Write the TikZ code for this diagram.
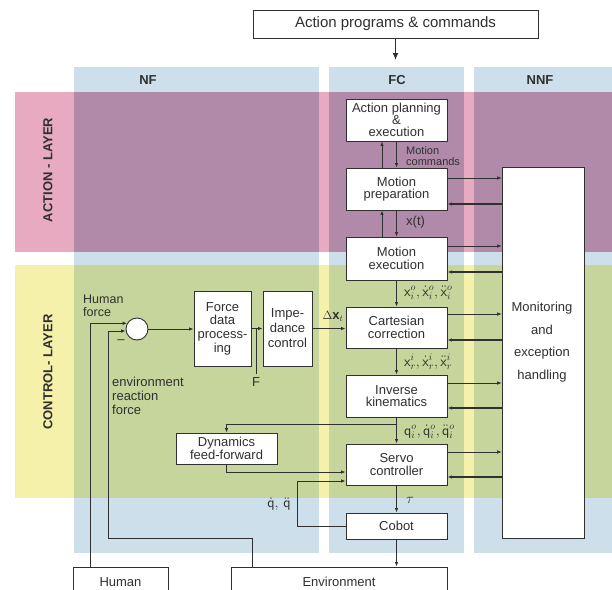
\documentclass[tikz,border=0pt]{standalone}
\usepackage{fontspec}
\setmainfont{Liberation Sans}
\usetikzlibrary{arrows.meta}
\definecolor{cblue}{HTML}{CCDFEA}
\definecolor{cpink}{HTML}{E8AAC1}
\definecolor{cpurple}{HTML}{B18AAA}
\definecolor{cyellow}{HTML}{F6F1AA}
\definecolor{cgreen}{HTML}{C6D59B}
\definecolor{linec}{HTML}{303030}
\newcommand{\fsz}[2]{\fontsize{#1}{#2}\selectfont}
\begin{document}
\begin{tikzpicture}[x=1pt,y=-1pt,
  box/.style={draw=linec,line width=0.9pt,fill=white,inner sep=0pt,align=center,text=linec,font=\fsz{13}{12.5}},
  lbl/.style={inner sep=0pt,text=linec,font=\fsz{12}{11}},
  mlbl/.style={inner sep=0pt,text=linec,font=\fsz{14.5}{14.5}},
  conn/.style={draw=linec,line width=0.8pt},
  arr/.style={conn,-{Latex[length=4.5pt,width=3.5pt]}},
  thinarr/.style={draw=linec,line width=0.5pt,-{Latex[length=4.5pt,width=3.5pt]}},
  thickarr/.style={draw=linec,line width=1.1pt,-{Latex[length=4.5pt,width=3.5pt]}},
  hdr/.style={inner sep=0pt,text=linec,font=\fsz{13}{13}\bfseries},
]
\clip (0,0) rectangle (612,589);
\fill[white] (0,0) rectangle (612,589);
% columns
\fill[cblue] (74,67) rectangle (319,553);
\fill[cblue] (329,67) rectangle (464,553);
\fill[cblue] (474,67) rectangle (612,553);
% layers
\fill[cpink] (15,92) rectangle (612,252);
\fill[cyellow] (15,265) rectangle (612,498);
\foreach \a/\b in {74/319,329/464,474/612}{
  \fill[cpurple] (\a,92) rectangle (\b,252);
  \fill[cgreen] (\a,265) rectangle (\b,498);
}
% headers
\node[hdr] (hnf) at (148,80) {NF};
\node[hdr] (hfc) at (397,80) {FC};
\node[hdr] (hnnf) at (540,80) {NNF};
\node[hdr,rotate=90] (lact) at (48,170) {ACTION - LAYER};
\node[hdr,rotate=90] (lctl) at (48,372) {CONTROL- LAYER};

% top
\node[box,font=\fsz{15}{15},minimum width=285pt,minimum height=28pt] (apc) at (395.5,24) {Action programs \& commands};
\coordinate (fctop) at (395.5,60);
\draw[draw=linec,line width=1.3pt,-{Latex[length=7pt,width=6pt]}] (apc.south) -- (fctop);

% FC boxes
\node[box,font=\fsz{13}{12},minimum width=101pt,minimum height=42pt] (apl) at (396.5,120) {Action planning\\\&\\execution};
\node[box,minimum width=101pt,minimum height=42pt] (mprep) at (396.5,189) {Motion\\preparation};
\node[box,minimum width=101pt,minimum height=43pt] (mexe) at (396.5,258.5) {Motion\\execution};
\node[box,minimum width=101pt,minimum height=41pt] (cart) at (396.5,327.5) {Cartesian\\correction};
\node[box,minimum width=101pt,minimum height=42pt] (ik) at (396.5,396) {Inverse\\kinematics};
\node[box,minimum width=101pt,minimum height=41pt] (servo) at (396.5,464.5) {Servo\\controller};
\node[box,minimum width=101pt,minimum height=26pt] (cobot) at (396.5,526) {Cobot};

% monitor
\node[box,minimum width=82pt,minimum height=371pt] (mon) at (543,352.5) {};
\node[lbl,align=center,font=\fsz{13}{22.7}] (montext) at (542,342) {Monitoring\\and\\exception\\handling};

% NF boxes
\node[box,font=\fsz{13}{13.7},minimum width=57pt,minimum height=75pt] (fdp) at (222.5,328.5) {Force\\data\\process-\\ing};
\node[box,font=\fsz{13}{15},minimum width=49pt,minimum height=75pt] (imp) at (287.5,328.5) {Impe-\\dance\\control};
\node[draw=linec,line width=0.9pt,fill=white,circle,minimum size=22pt,inner sep=0pt] (sum) at (137,329) {};
\node[box,font=\fsz{13}{11.5},minimum width=101pt,minimum height=31pt] (dyn) at (226.5,448.5) {Dynamics\\feed-forward};
\node[box,minimum width=95pt,minimum height=30pt] (human) at (120.5,582) {Human};
\node[box,minimum width=216pt,minimum height=30pt] (env) at (339,582) {Environment};

% FC vertical chain
\draw[arr] (apl.south) -- (mprep.north);
\draw[arr] ([xshift=-14.5pt]mprep.north) -- ([xshift=-14.5pt]apl.south);
\draw[arr] (mprep.south) -- (mexe.north);
\draw[arr] ([xshift=-14.5pt]mexe.north) -- ([xshift=-14.5pt]mprep.south);
\draw[arr] (mexe.south) -- (cart.north);
\draw[arr] (cart.south) -- (ik.north);
\draw[arr] (ik.south) -- (servo.north);
\draw[arr] (servo.south) -- (cobot.north);
\draw[arr] (cobot.south) -- (cobot.south |- env.north);

% monitor arrows
\foreach \n/\r/\l in {mprep/11/-15,mexe/12.5/-13.5,cart/13.5/-12.5,ik/13/-12,servo/12.5/-12.5}{
  \coordinate (r\n) at ([yshift=\r pt]\n.east);
  \coordinate (l\n) at ([yshift=\l pt]\n.east);
  \draw[thinarr] (r\n) -- (r\n -| mon.west);
  \draw[thickarr] (l\n -| mon.west) -- (l\n);
}

% FC labels
\node[lbl,anchor=west,align=left,font=\fsz{11}{11}] (mcmd) at (406,156.5) {Motion\\commands};
\node[lbl,anchor=west,font=\fsz{13}{13}] (xt) at (406,222) {x(t)};
\node[mlbl,anchor=west] (lx1) at (404,293) {$\mathsf{x}^{o}_{i},\dot{\mathsf{x}}^{o}_{i},\ddot{\mathsf{x}}^{o}_{i}$};
\node[mlbl,anchor=west] (lx2) at (404,362) {$\mathsf{x}^{i}_{r},\dot{\mathsf{x}}^{i}_{r},\ddot{\mathsf{x}}^{i}_{r}$};
\node[mlbl,anchor=west] (lq) at (404,432) {$\mathsf{q}^{o}_{i},\dot{\mathsf{q}}^{o}_{i},\ddot{\mathsf{q}}^{o}_{i}$};
\node[mlbl,anchor=west] (ltau) at (406,500) {$\tau$};

% NF connections
\draw[arr] (sum.east) -- (sum.east -| fdp.west);
\draw[arr] (fdp.east) -- (imp.west);
\coordinate (fbr) at (256,328.5);
\node[lbl,font=\fsz{13}{13}] (flab) at (256,382) {F};
\draw[conn] (fbr) -- ([yshift=3pt]flab.north);
\draw[arr] (imp.east) -- (imp.east -| cart.west);
\node[mlbl,font=\fsz{13}{13}] (ldx) at (333,316) {$\Delta\mathbf{x}_{t}$};

\draw[arr] ([xshift=-30.5pt]human.north) |- (sum.150);
\coordinate (ec) at (108,538);
\draw[arr] ([xshift=-87pt]env.north) |- (ec) |- (sum.190);
\node[lbl,anchor=west,align=left,font=\fsz{12.5}{13}] (hf) at (83,305.5) {Human\\force};
\node[lbl,font=\fsz{13}{13}] (minus) at (121,342) {--};
\node[lbl,anchor=west,align=left,font=\fsz{13}{14}] (erf) at (112,396) {environment\\reaction\\force};

% dynamics
\coordinate (qb) at (396.5,424);
\draw[arr] (qb) -| (dyn.north);
\draw[arr] (dyn.south) |- ([yshift=-7.5pt]servo.west);
\coordinate (fbc) at (297,526);
\draw[arr] (cobot.west) -- (fbc) |- ([yshift=-16.5pt]servo.west);
\node[mlbl] (lqd) at (279,504) {$\dot{\mathsf{q}},\,\ddot{\mathsf{q}}$};
\end{tikzpicture}
\end{document}
